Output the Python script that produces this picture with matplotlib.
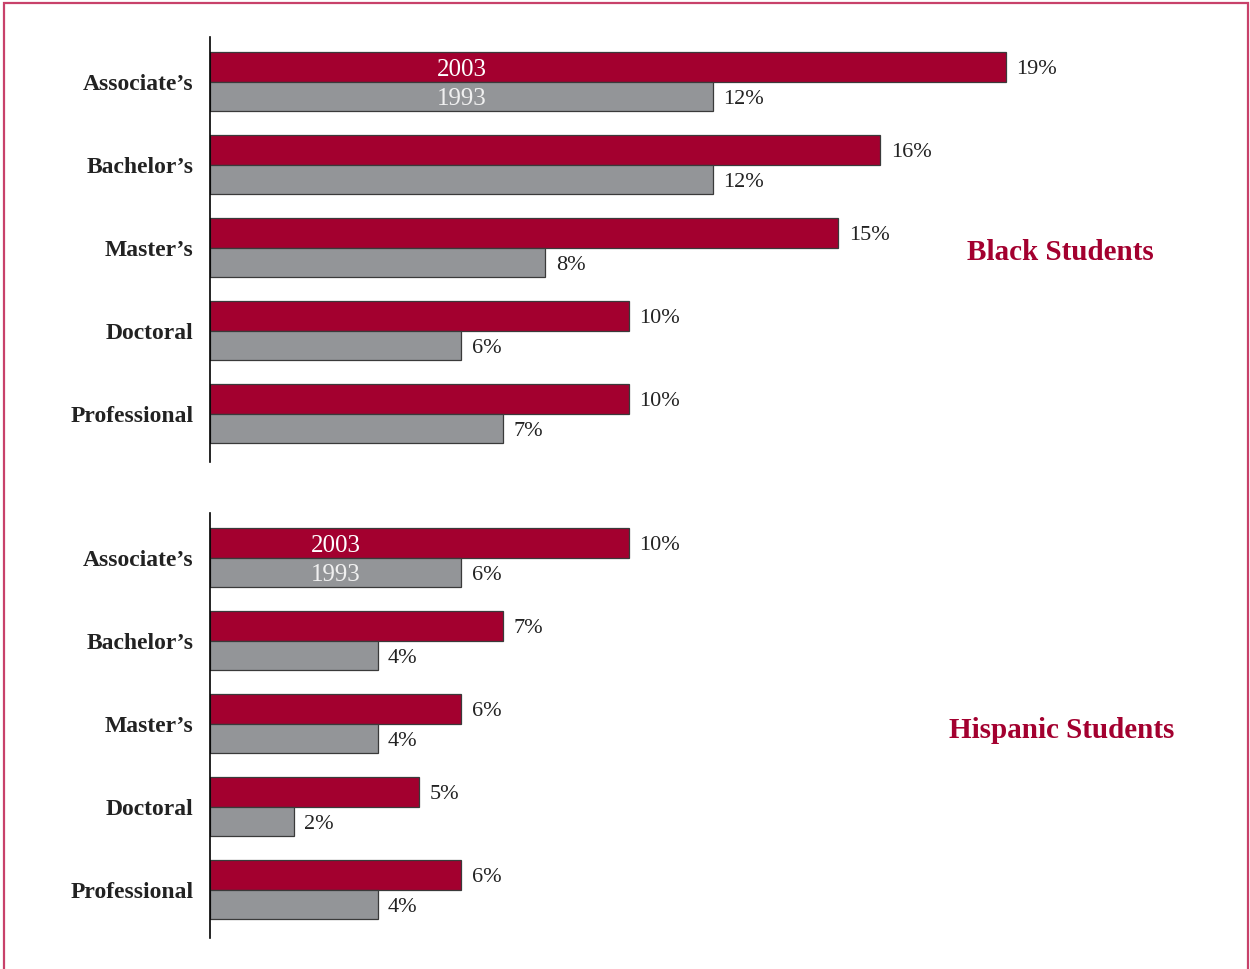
import matplotlib
matplotlib.use("Agg")
import matplotlib.pyplot as plt
from matplotlib.patches import Rectangle

degrees = ["Associate\u2019s", "Bachelor\u2019s", "Master\u2019s", "Doctoral", "Professional"]
black_2003 = [19, 16, 15, 10, 10]
black_1993 = [12, 12, 8, 6, 7]
hisp_2003 = [10, 7, 6, 5, 6]
hisp_1993 = [6, 4, 4, 2, 4]
panel_titles = ["Black Students", "Hispanic Students"]

RED = "#A3002F"
GREY = "#939598"
BORDER = "#C8416A"
plt.rcParams["font.family"] = ["Liberation Serif", "DejaVu Serif"]

fig = plt.figure(figsize=(12.5, 9.69), dpi=100)
fig.patches.append(Rectangle((0.0035, -0.1), 0.9945, 1.0965, transform=fig.transFigure,
                             fill=False, edgecolor=BORDER, linewidth=1.6, zorder=10))

W, H = 1250, 969
def ax_at(top_px):
    return fig.add_axes([210 / W, (H - top_px - 425) / H, 1005.6 / W, 425 / H])

# (axes top px, 2003 values, 1993 values, title, title x/y px, x of the year labels)
panels = [(37, black_2003, black_1993, panel_titles[0], 1060, 250, 6),
          (513, hisp_2003, hisp_1993, panel_titles[1], 1062, 727, 3)]
bh = 0.355
for top, v03, v93, title, tx, ty, yx in panels:
    ax = ax_at(top)
    y = list(range(len(degrees)))
    ax.barh([i - bh / 2 for i in y], v03, height=bh, color=RED, edgecolor="#3a3a3a", linewidth=0.9)
    ax.barh([i + bh / 2 for i in y], v93, height=bh, color=GREY, edgecolor="#3a3a3a", linewidth=0.9)
    for i in y:
        ax.text(v03[i] + 0.25, i - bh / 2, f"{v03[i]}%", va="center_baseline", ha="left",
                fontsize=16, color="#222222")
        ax.text(v93[i] + 0.25, i + bh / 2, f"{v93[i]}%", va="center_baseline", ha="left",
                fontsize=16, color="#222222")
    ax.text(yx, -bh / 2, "2003", ha="center", va="center_baseline", fontsize=18, color="white")
    ax.text(yx, bh / 2, "1993", ha="center", va="center_baseline", fontsize=18, color="#f0f0f0")
    ax.set_xlim(0, 24)
    ax.set_ylim(4.58, -0.54)
    ax.set_yticks(y)
    ax.set_yticklabels(degrees, fontsize=17, fontweight="bold", color="#222222")
    ax.tick_params(axis="y", length=0, pad=12)
    ax.set_xticks([])
    for s in ["top", "right", "bottom"]:
        ax.spines[s].set_visible(False)
    ax.spines["left"].set_linewidth(1.2)
    fig.text(tx / W, 1 - ty / H, title, ha="center", va="center_baseline", fontsize=21,
             fontweight="bold", color=RED)

fig.savefig("out.png", dpi=100, facecolor="white")
